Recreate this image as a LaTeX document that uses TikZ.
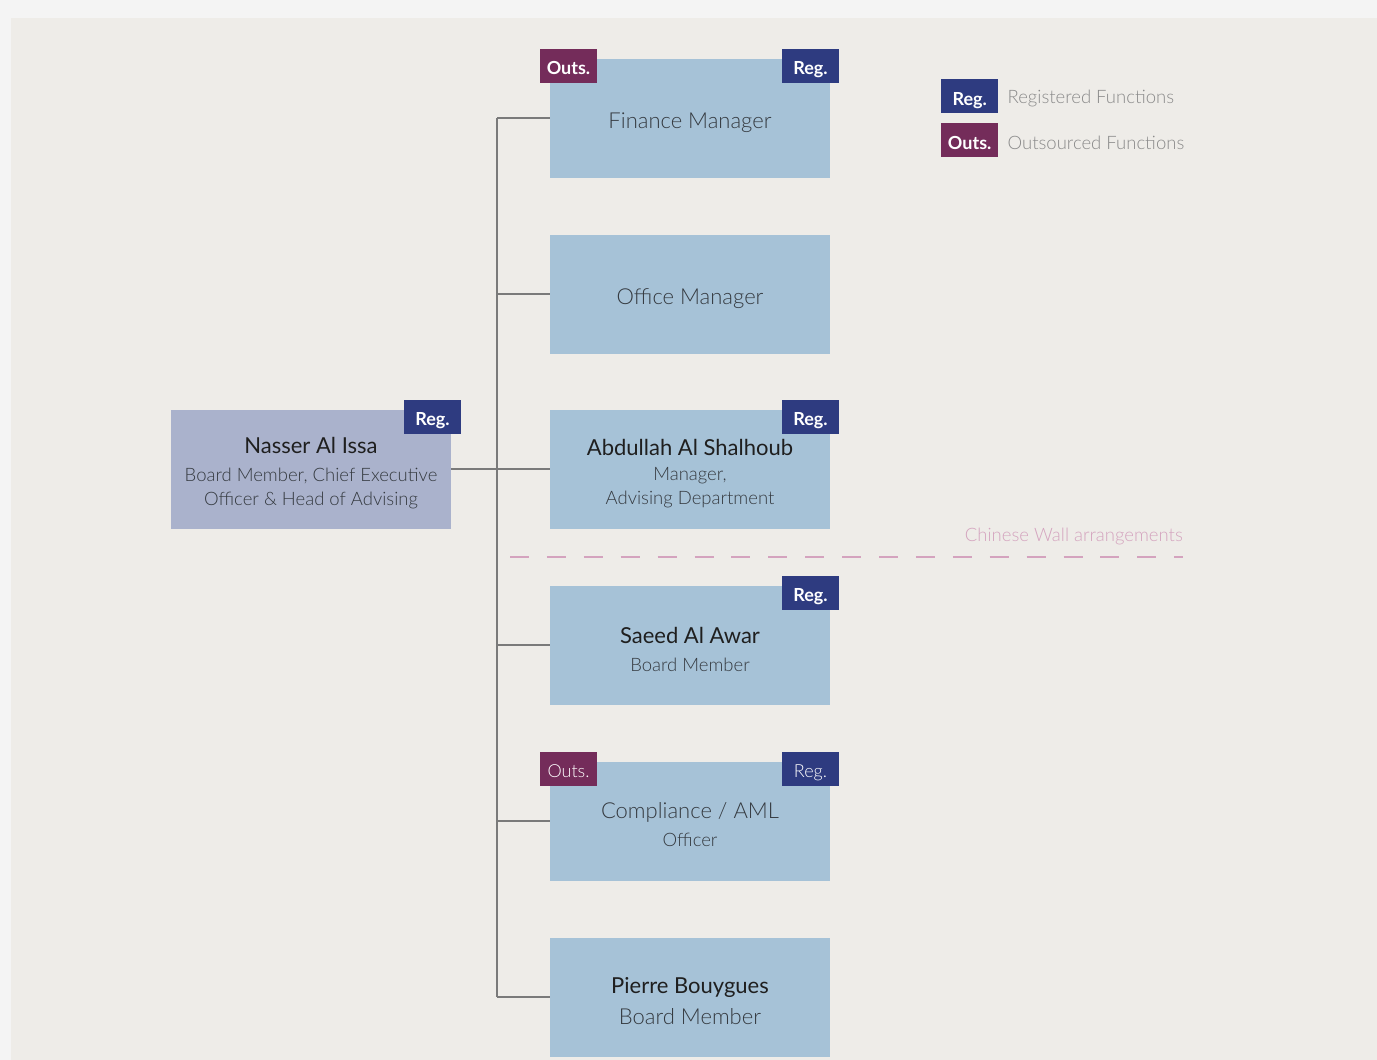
\documentclass[tikz,border=0pt]{standalone}
\usepackage{fontspec}
\setmainfont{Lato}
\newfontfamily\lightfont{Lato Light}
\usetikzlibrary{positioning}
\definecolor{pagegray}{HTML}{F4F4F4}
\definecolor{panelgray}{HTML}{EEECE8}
\definecolor{boxblue}{HTML}{A6C2D7}
\definecolor{ceoblue}{HTML}{AAB2CC}
\definecolor{regblue}{HTML}{2E3B80}
\definecolor{outspurple}{HTML}{742C5A}
\definecolor{linegray}{HTML}{7A7A7A}
\definecolor{txtdark}{HTML}{353A40}
\definecolor{legendgray}{HTML}{8A8A8A}
\definecolor{wallpink}{HTML}{D4A3BE}
\newcommand{\who}[1]{{\normalfont\fontsize{22}{30}\selectfont\color{black!88}\rule{0pt}{25pt}#1}}
\newcommand{\rolebig}[1]{{\fontsize{22}{26}\selectfont\rule{0pt}{26pt}#1}}
\begin{document}
\begin{tikzpicture}[x=1pt, y=-1pt,
    box/.style={fill=boxblue, minimum width=280pt, minimum height=119pt, inner sep=0pt,
        align=center, text=txtdark, font=\lightfont\fontsize{18.5}{24}\selectfont},
    tag/.style={minimum width=57pt, minimum height=34pt, inner sep=0pt, text=white,
        text height=18pt, text depth=0pt, font=\fontsize{18}{20}\selectfont\bfseries},
    reg/.style={tag, fill=regblue},
    outs/.style={tag, fill=outspurple},
    link/.style={draw=linegray, line width=1.6pt},
    legtext/.style={inner sep=0pt, yshift=-2.5pt, text=legendgray, font=\lightfont\fontsize{18.5}{20}\selectfont}]
\fill[pagegray] (0,0) rectangle (1377,1060);
\fill[panelgray] (11,18) rectangle (1377,1060);
% people and functions
\node[box] (fin) at (690,118) {\rolebig{Finance Manager}};
\node[box] (office) at (690,294) {\rolebig{Office Manager}};
\node[box] (abdullah) at (690,469) {\who{Abdullah Al Shalhoub}\\[1pt]Manager,\\Advising Department};
\node[box] (saeed) at (690,645) {\who{Saeed Al Awar}\\[4pt]Board Member};
\node[box] (aml) at (690,821) {\fontsize{22}{29}\selectfont\rule{0pt}{24pt}Compliance / AML\\[4pt]Officer};
\node[box] (pierre) at (690,997) {\who{Pierre Bouygues}\\[7pt]\fontsize{22}{26}\selectfont Board Member};
\node[box, fill=ceoblue] (nasser) at (311,469) {\who{Nasser Al Issa}\\[4pt]Board Member, Chief Executive\\Officer \& Head of Advising};
% tags
\node[outs, anchor=north west] (finouts) at ([shift={(-10,-10)}]fin.north west) {Outs.};
\node[reg, anchor=north east] (finreg) at ([shift={(9,-10)}]fin.north east) {Reg.};
\node[reg, anchor=north east] (abdreg) at ([shift={(9,-10)}]abdullah.north east) {Reg.};
\node[reg, anchor=north east] (saeedreg) at ([shift={(9,-10)}]saeed.north east) {Reg.};
\node[outs, anchor=north west, font=\lightfont\fontsize{18}{20}\selectfont] (amlouts) at ([shift={(-10,-10)}]aml.north west) {Outs.};
\node[reg, anchor=north east, font=\lightfont\fontsize{18}{20}\selectfont] (amlreg) at ([shift={(9,-10)}]aml.north east) {Reg.};
\node[reg, anchor=north east] (nasserreg) at ([shift={(10,-10)}]nasser.north east) {Reg.};
% legend
\node[reg, anchor=north west] (legreg) at (941,79) {Reg.};
\node[outs, anchor=north west] (legouts) at (941,123) {Outs.};
\node[legtext, right=9pt of legreg] (legregtxt) {Registered Functions};
\node[legtext, right=9pt of legouts] (legoutstxt) {Outsourced Functions};
% reporting lines
\coordinate (trunk) at (497,118);
\draw[link] (fin.west -| trunk) -- (pierre.west -| trunk);
\foreach \b in {fin, office, abdullah, saeed, aml, pierre}
{
    \draw[link] (\b.west) -- (\b.west -| trunk);
}
\draw[link] (nasser.east) -- (nasser.east -| trunk);
% chinese wall
\coordinate (wallL) at (510,557);
\coordinate (wallR) at (1183,557);
\draw[wallpink, line width=2pt, dash pattern=on 19pt off 17.9pt] (wallL) -- (wallR);
\node[anchor=south east, inner sep=0pt, text=wallpink, font=\lightfont\fontsize{18.5}{20}\selectfont] (walltxt) at (1183,545) {Chinese Wall arrangements};
\end{tikzpicture}
\end{document}
